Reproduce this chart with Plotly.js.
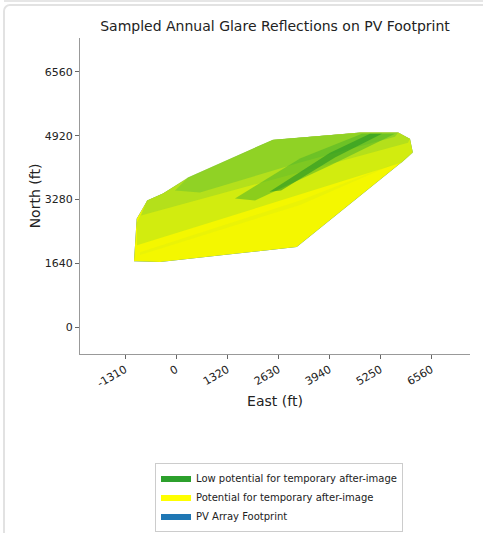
<!DOCTYPE html>
<html>
<head>
<meta charset="utf-8">
<script src="https://cdn.plot.ly/plotly-3.0.1.min.js"></script>
<style>
  html, body { margin: 0; padding: 0; background: #fff; width: 483px; height: 533px; overflow: hidden; }
  #topline { position: absolute; left: 4px; top: 0px; width: 479px; height: 0; border-top: 2px solid #e6e6e6; }
  #card { position: absolute; left: 3px; top: 4px; width: 500px; height: 560px; border: 2px solid #e2e2e2; border-radius: 7px; box-sizing: border-box; }
  #chart { position: absolute; left: 0; top: 0; width: 483px; height: 533px; }
</style>
</head>
<body>
<div id="topline"></div>
<div id="card"></div>
<div id="chart"></div>
<script>
// ---- data (feet) ----
const footprintEast  = [-1079, -1010, -737, -334, 316, 2500, 4727, 5712, 6011, 6080, 5797, 3100, -411, -1079];
const footprintNorth = [1691, 2785, 3254, 3434, 3835, 4809, 5005, 5005, 4835, 4493, 4237, 2058, 1674, 1691];

// glare sample regions (low potential, green shading)
const band1East  = [-1002, -1002, -745, -334, 308, 2492, 4726, 5702, 6011, 6088, 5805, -1002];
const band1North = [2101, 2691, 3254, 3434, 3844, 4818, 4997, 4997, 4843, 4484, 4228, 2101];

const band2East  = [-899, -745, -334, 308, 2492, 4726, 5702, 6011, 5959, -899];
const band2North = [2870, 3254, 3434, 3844, 4818, 4997, 4997, 4843, 4741, 2870];

const band3East  = [-26, 308, 2492, 4726, 5702, 5625, 3185, 616];
const band3North = [3511, 3844, 4818, 4997, 4997, 4894, 4228, 3459];

const band4East  = [1515, 3185, 4778, 5625, 3956, 2029];
const band4North = [3306, 4331, 4971, 4971, 4151, 3254];

const streakEast  = [2400, 3956, 4983, 5291, 4084, 2700];
const streakNorth = [3480, 4484, 4971, 4971, 4356, 3511];

const faintEast  = [-925, 3185, 5805, 3185, -925];
const faintNorth = [1922, 3254, 4279, 3140, 1850];

const xTicks = [-1310, 0, 1320, 2630, 3940, 5250, 6560];
const yTicks = [0, 1640, 3280, 4920, 6560];

const legendNames = ['Low potential for temporary after-image', 'Potential for temporary after-image', 'PV Array Footprint'];
const legendColors = ['#2ca02c', '#ffff00', '#1f77b4'];

function poly(x, y, color, name, show) {
  return { x: x, y: y, type: 'scatter', mode: 'lines', fill: 'toself', fillcolor: color,
           line: { width: 0, color: color }, hoverinfo: 'skip', showlegend: !!show, name: name || '' };
}

const traces = [
  poly(footprintEast, footprintNorth, '#1f77b4', legendNames[2], false),
  poly(footprintEast, footprintNorth, '#f4f700', legendNames[1], false),
  poly(faintEast, faintNorth, 'rgba(200,230,30,0.2)'),
  poly(band1East, band1North, 'rgba(175,225,30,0.5)'),
  poly(band2East, band2North, 'rgba(150,212,40,0.5)'),
  poly(band3East, band3North, 'rgba(120,200,45,0.6)'),
  poly(band4East, band4North, 'rgba(80,180,40,0.55)'),
  poly(streakEast, streakNorth, 'rgba(40,150,35,0.6)'),
];
// legend entries
for (let i = 0; i < 3; i++) {
  traces.push({ x: [null], y: [null], type: 'scatter', mode: 'lines', fill: 'toself',
    fillcolor: legendColors[i], line: { width: 0, color: legendColors[i] }, name: legendNames[i], showlegend: true });
}

const font = { family: 'DejaVu Sans, sans-serif', color: '#222' };

const layout = {
  width: 483, height: 533,
  paper_bgcolor: 'rgba(0,0,0,0)', plot_bgcolor: 'rgba(0,0,0,0)',
  margin: { l: 80, r: 13, t: 38, b: 179, autoexpand: false },
  font: font,
  title: { text: 'Sampled Annual Glare Reflections on PV Footprint', font: { family: font.family, size: 14, color: '#222' },
           xref: 'paper', x: 0.5, xanchor: 'center', yref: 'container', y: 1 - 26 / 533, yanchor: 'middle' },
  xaxis: {
    range: [-2466, 7552], tickvals: xTicks, ticktext: xTicks.map(String), tickangle: -30,
    showgrid: false, zeroline: false, showline: true, linecolor: '#999', linewidth: 1, mirror: false,
    ticks: 'outside', ticklen: 4, tickcolor: '#666', tickfont: { size: 11, color: '#222' },
    title: { text: 'East (ft)', font: { size: 14, color: '#222' } },
  },
  yaxis: {
    range: [-692, 7431], tickvals: yTicks, ticktext: yTicks.map(String),
    showgrid: false, zeroline: false, showline: true, linecolor: '#999', linewidth: 1, mirror: false,
    ticks: 'outside', ticklen: 4, tickcolor: '#666', tickfont: { size: 11, color: '#222' },
    title: { text: 'North (ft)', font: { size: 14, color: '#222' } },
  },
  showlegend: true,
  legend: { x: (155 - 80) / 390, y: (354 - 497) / 316, xanchor: 'left', yanchor: 'middle',
            bgcolor: '#fff', bordercolor: '#ccc', borderwidth: 1, font: { size: 10, color: '#222' },
            traceorder: 'normal', itemwidth: 30, tracegroupgap: 0 },
};

Plotly.newPlot('chart', traces, layout, { staticPlot: true, displayModeBar: false });
</script>
</body>
</html>
